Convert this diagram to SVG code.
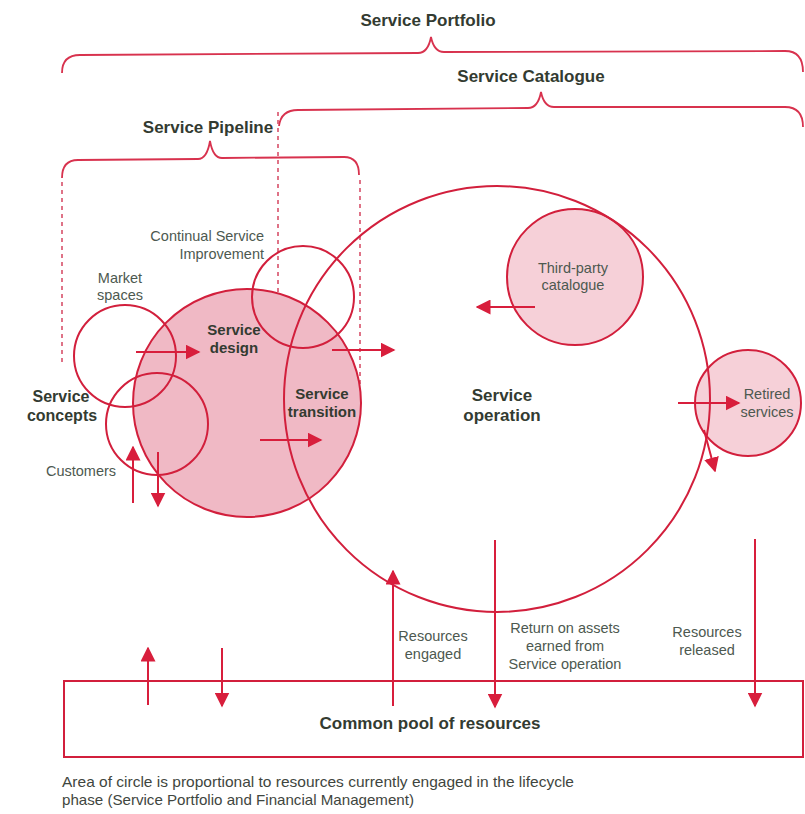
<svg xmlns="http://www.w3.org/2000/svg" width="805" height="814" viewBox="0 0 805 814">
  <defs>
    <style>
      .brace { fill: none; stroke: #d8324e; stroke-width: 1.8; }
      .dash { fill: none; stroke: #d8506a; stroke-width: 1.6; stroke-dasharray: 4 4; }
      .ring { fill: none; stroke: #d21f3c; stroke-width: 2; }
      .fill-strong { fill: #f0b9c5; }
      .fill-light { fill: #f6d0d8; }
      .flow { fill: none; stroke: #d81e3c; stroke-width: 2; marker-end: url(#ah); }
      .title { font-family: "Liberation Sans", Arial, sans-serif; font-weight: bold; font-size: 17px; fill: #333b31; text-anchor: middle; }
      .bold { font-family: "Liberation Sans", Arial, sans-serif; font-weight: bold; font-size: 15px; fill: #333b31; text-anchor: middle; }
      .label { font-family: "Liberation Sans", Arial, sans-serif; font-size: 14.5px; fill: #4d5950; text-anchor: middle; }
      .note { font-family: "Liberation Sans", Arial, sans-serif; font-size: 15px; fill: #3f4640; }
    </style>
    <marker id="ah" viewBox="0 0 10 10" refX="9" refY="5" markerWidth="15" markerHeight="15" markerUnits="userSpaceOnUse" orient="auto">
      <path d="M0,0 L10,5 L0,10 z" fill="#d81e3c"/>
    </marker>
  </defs>

  <!-- scope braces -->
  <g id="service-portfolio">
    <path class="brace" d="M62,73 Q62,55 80,55 L418,53 Q428,53 431,37 Q434,52 444,52 L785,51 Q803,51 803,72"/>
    <text class="title" x="428" y="26">Service Portfolio</text>
  </g>
  <g id="service-catalogue">
    <path class="brace" d="M279,126 Q281,110 298,110 L528,108 Q538,108 541,92 Q544,107 554,107 L785,107 Q803,107 803,127"/>
    <text class="title" x="531" y="82">Service Catalogue</text>
  </g>
  <g id="service-pipeline">
    <path class="brace" d="M62,178 Q62,160 78,160 L198,159 Q207,159 210,141 Q213,158 222,158 L344,157 Q359,157 359,175"/>
    <text class="title" x="208" y="133">Service Pipeline</text>
  </g>

  <!-- phase boundaries -->
  <g id="boundaries">
    <line class="dash" x1="62" y1="182" x2="62" y2="366"/>
    <line class="dash" x1="278" y1="112" x2="278" y2="386"/>
    <line class="dash" x1="360" y1="180" x2="360" y2="386"/>
  </g>

  <!-- lifecycle phases -->
  <g id="service-design">
    <circle class="fill-strong" cx="247" cy="403" r="114"/>
    <circle class="ring" cx="247" cy="403" r="114"/>
    <text class="bold" x="234" y="335">Service</text>
    <text class="bold" x="234" y="353">design</text>
  </g>
  <g id="market-spaces">
    <circle class="ring" cx="125" cy="356" r="51"/>
    <text class="label" x="120" y="283">Market</text>
    <text class="label" x="120" y="300">spaces</text>
  </g>
  <g id="customers">
    <circle class="ring" cx="157" cy="424" r="51"/>
    <text class="label" x="81" y="476">Customers</text>
  </g>
  <g id="service-concepts">
    <text class="bold" style="font-size:16px" x="61" y="402">Service</text>
    <text class="bold" style="font-size:16px" x="62" y="421">concepts</text>
  </g>
  <g id="continual-service-improvement">
    <circle class="ring" cx="303" cy="297" r="51"/>
    <text class="label" style="text-anchor:end" x="264" y="241">Continual Service</text>
    <text class="label" style="text-anchor:end" x="264" y="259">Improvement</text>
  </g>
  <g id="third-party-catalogue">
    <circle class="fill-light" cx="575" cy="277" r="68"/>
    <circle class="ring" cx="575" cy="277" r="68"/>
    <text class="label" x="573" y="273">Third-party</text>
    <text class="label" x="573" y="290">catalogue</text>
  </g>
  <g id="retired-services">
    <circle class="fill-light" cx="748" cy="403" r="53"/>
    <circle class="ring" cx="748" cy="403" r="53"/>
    <text class="label" x="767" y="399">Retired</text>
    <text class="label" x="767" y="417">services</text>
  </g>
  <g id="service-operation">
    <circle class="ring" cx="497" cy="399" r="213"/>
    <text class="bold" style="font-size:17px" x="502" y="401">Service</text>
    <text class="bold" style="font-size:17px" x="502" y="421">operation</text>
  </g>
  <g id="service-transition">
    <text class="bold" x="322" y="399">Service</text>
    <text class="bold" x="322" y="417">transition</text>
  </g>

  <!-- shared resources -->
  <g id="common-pool">
    <rect x="64" y="681" width="739" height="76" fill="none" stroke="#d21f3c" stroke-width="2"/>
    <text class="title" x="430" y="729">Common pool of resources</text>
  </g>

  <!-- flows between phases and the pool -->
  <g id="connectors">
    <line class="flow" x1="136" y1="352" x2="199" y2="352"/>
    <line class="flow" x1="332" y1="350" x2="394" y2="350"/>
    <line class="flow" x1="260" y1="440" x2="321" y2="440"/>
    <line class="flow" x1="133" y1="503" x2="133" y2="447"/>
    <line class="flow" x1="158" y1="452" x2="158" y2="506"/>
    <line class="flow" x1="535" y1="307" x2="477" y2="307"/>
    <line class="flow" x1="678" y1="403" x2="739" y2="403"/>
    <line class="flow" x1="704" y1="430" x2="715" y2="471"/>
    <line class="flow" x1="393" y1="706" x2="393" y2="571"/>
    <line class="flow" x1="495" y1="540" x2="495" y2="707"/>
    <line class="flow" x1="755" y1="539" x2="755" y2="706"/>
    <line class="flow" x1="148" y1="705" x2="148" y2="648"/>
    <line class="flow" x1="222" y1="648" x2="222" y2="706"/>
  </g>

  <g id="flow-labels">
    <text class="label" x="433" y="641">Resources</text>
    <text class="label" x="433" y="659">engaged</text>
    <text class="label" x="565" y="633">Return on assets</text>
    <text class="label" x="565" y="651">earned from</text>
    <text class="label" x="565" y="669">Service operation</text>
    <text class="label" x="707" y="637">Resources</text>
    <text class="label" x="707" y="655">released</text>
  </g>

  <g id="footnote">
    <text class="note" x="62" y="787" textLength="512" lengthAdjust="spacingAndGlyphs">Area of circle is proportional to resources currently engaged in the lifecycle</text>
    <text class="note" x="62" y="805" textLength="352" lengthAdjust="spacingAndGlyphs">phase (Service Portfolio and Financial Management)</text>
  </g>
</svg>
